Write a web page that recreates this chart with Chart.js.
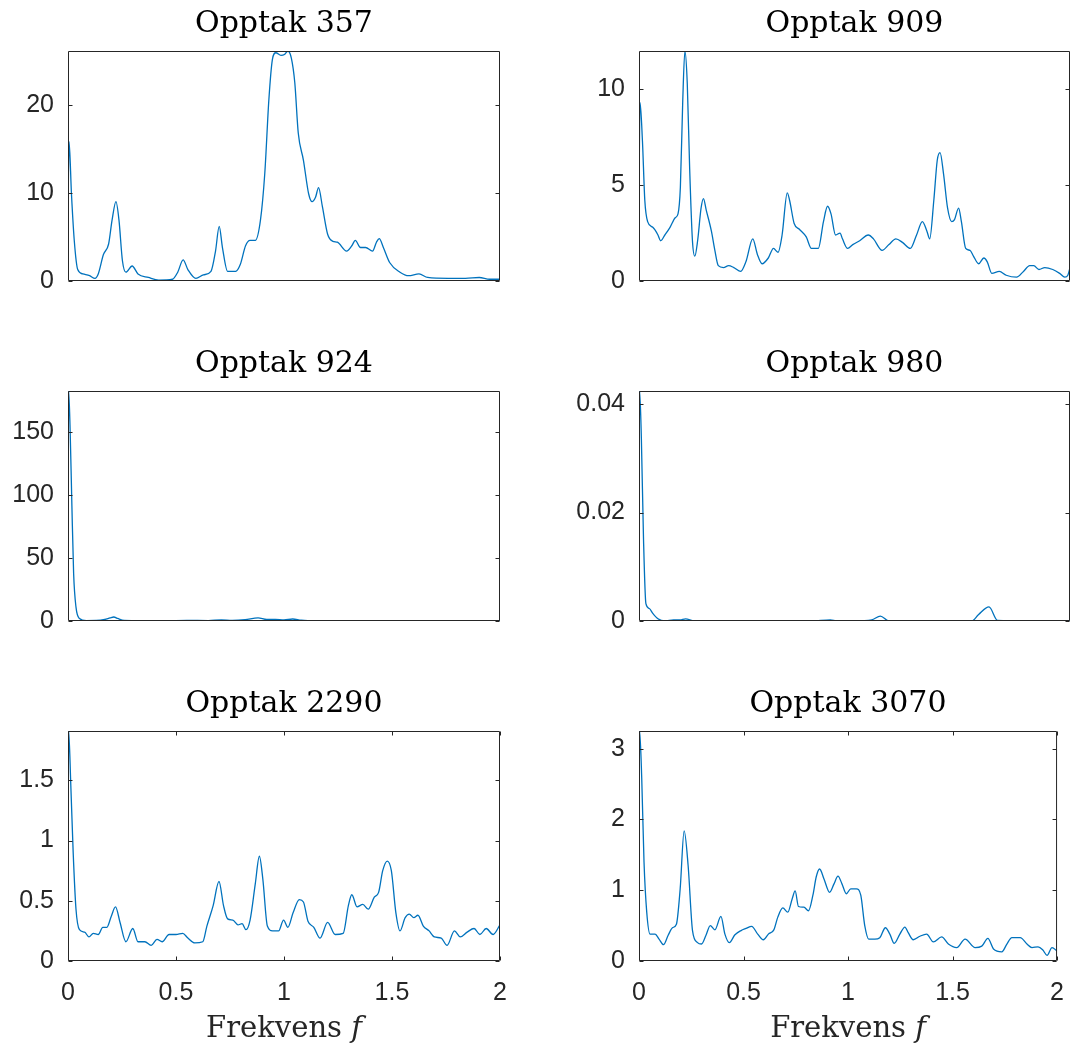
<!DOCTYPE html>
<html>
<head>
<meta charset="utf-8">
<script src="https://cdn.jsdelivr.net/npm/chart.js@4.4.1/dist/chart.umd.min.js"></script>
<style>
  body { margin: 0; background: #fff; }
  #wrap { position: relative; width: 1081px; height: 1047px; }
  canvas { position: absolute; }
</style>
</head>
<body>
<div id="wrap">
  <canvas id="c357" width="540" height="340" style="left:0;top:0"></canvas>
  <canvas id="c909" width="541" height="340" style="left:540px;top:0"></canvas>
  <canvas id="c924" width="540" height="340" style="left:0;top:340px"></canvas>
  <canvas id="c980" width="541" height="340" style="left:540px;top:340px"></canvas>
  <canvas id="c2290" width="540" height="367" style="left:0;top:680px"></canvas>
  <canvas id="c3070" width="541" height="367" style="left:540px;top:680px"></canvas>
</div>
<script>
// frequency / amplitude readings for each recording
var freq357 = [0, 0.005, 0.016, 0.029, 0.045, 0.069, 0.10, 0.125, 0.14, 0.164, 0.188, 0.204, 0.222, 0.236, 0.252, 0.268, 0.297, 0.324, 0.372, 0.42, 0.484, 0.508, 0.533, 0.555, 0.592, 0.627, 0.662, 0.683, 0.70, 0.715, 0.739, 0.776, 0.798, 0.822, 0.843, 0.867, 0.891, 0.911, 0.93, 0.946, 0.962, 0.986, 1.002, 1.018, 1.034, 1.05, 1.066, 1.09, 1.114, 1.13, 1.146, 1.16, 1.178, 1.202, 1.226, 1.247, 1.29, 1.314, 1.33, 1.354, 1.378, 1.41, 1.428, 1.441, 1.46, 1.489, 1.537, 1.577, 1.625, 1.665, 1.76, 1.84, 1.904, 1.952, 2.0];
var amp357 = [8.0, 15.8, 9.9, 4.6, 1.3, 0.8, 0.6, 0.3, 0.8, 3.0, 4.2, 6.9, 9.0, 6.9, 2.3, 1.0, 1.7, 0.8, 0.4, 0.1, 0.2, 1.0, 2.4, 1.3, 0.3, 0.7, 1.1, 3.4, 6.2, 3.8, 1.1, 1.1, 1.9, 4.0, 4.6, 4.6, 6.9, 12.2, 20.6, 25.1, 25.9, 25.6, 25.7, 26.1, 25.3, 22.5, 16.8, 13.7, 9.9, 9.0, 9.5, 10.6, 8.4, 5.3, 4.5, 4.4, 3.4, 4.0, 4.6, 3.8, 3.8, 3.4, 4.4, 4.8, 3.8, 2.1, 1.0, 0.6, 0.8, 0.4, 0.3, 0.3, 0.4, 0.2, 0.2];

var freq909 = [0, 0.005, 0.016, 0.027, 0.04, 0.064, 0.088, 0.10, 0.12, 0.144, 0.168, 0.181, 0.192, 0.203, 0.213, 0.224, 0.235, 0.248, 0.259, 0.272, 0.288, 0.299, 0.312, 0.336, 0.352, 0.368, 0.392, 0.416, 0.44, 0.472, 0.496, 0.528, 0.549, 0.571, 0.6, 0.624, 0.645, 0.664, 0.688, 0.699, 0.72, 0.744, 0.776, 0.8, 0.832, 0.856, 0.875, 0.891, 0.912, 0.933, 0.944, 0.968, 0.992, 1.024, 1.064, 1.088, 1.128, 1.16, 1.192, 1.224, 1.259, 1.288, 1.315, 1.336, 1.349, 1.368, 1.384, 1.397, 1.413, 1.432, 1.451, 1.464, 1.483, 1.496, 1.516, 1.536, 1.552, 1.576, 1.6, 1.616, 1.637, 1.672, 1.704, 1.752, 1.784, 1.813, 1.832, 1.856, 1.883, 1.92, 1.952, 1.976, 1.99, 2.0];
var amp909 = [4.7, 9.3, 7.3, 4.2, 3.1, 2.8, 2.4, 2.1, 2.4, 2.8, 3.3, 3.5, 4.9, 9.4, 12.0, 10.3, 5.9, 2.1, 1.3, 2.1, 3.8, 4.3, 3.7, 2.6, 1.6, 0.8, 0.7, 0.8, 0.7, 0.5, 1.0, 2.2, 1.4, 0.9, 1.2, 1.7, 1.5, 2.4, 4.6, 4.2, 3.0, 2.7, 2.3, 1.7, 1.7, 3.1, 3.9, 3.5, 2.4, 2.5, 2.2, 1.7, 1.9, 2.1, 2.4, 2.2, 1.6, 1.9, 2.2, 2.0, 1.7, 2.4, 3.1, 2.6, 2.2, 4.2, 6.3, 6.7, 5.6, 3.8, 3.1, 3.2, 3.8, 3.1, 1.7, 1.6, 1.3, 0.9, 1.2, 1.0, 0.4, 0.5, 0.3, 0.2, 0.5, 0.8, 0.8, 0.6, 0.7, 0.6, 0.4, 0.2, 0.3, 0.7];

var freq924 = [0, 0.003, 0.01, 0.018, 0.026, 0.037, 0.053, 0.085, 0.13, 0.17, 0.195, 0.212, 0.23, 0.26, 0.35, 0.45, 0.55, 0.65, 0.71, 0.76, 0.82, 0.88, 0.92, 0.96, 1.0, 1.04, 1.08, 1.15, 1.25, 1.4, 1.6, 1.8, 2.0];
var amp924 = [94, 183, 151, 92, 38, 11, 2, 0.3, 0.4, 1.2, 2.5, 3.2, 2.0, 0.5, 0.3, 0.2, 0.5, 0.3, 0.9, 0.4, 1.0, 2.5, 1.2, 1.3, 0.8, 1.6, 0.6, 0.2, 0.3, 0.2, 0.2, 0.3, 0.2];

var freq980 = [0, 0.003, 0.011, 0.021, 0.032, 0.048, 0.064, 0.088, 0.12, 0.16, 0.19, 0.216, 0.256, 0.4, 0.6, 0.8, 0.888, 0.92, 1.0, 1.08, 1.12, 1.16, 1.3, 1.544, 1.576, 1.624, 1.664, 1.8, 2.0];
var amp980 = [0.0218, 0.0424, 0.0336, 0.015, 0.0032, 0.0023, 0.0014, 0.0004, 0.0000, 0.0002, 0.0002, 0.0004, 0.0000, 0, 0, 0, 0.0002, 0, 0, 0.0002, 0.0009, 0, 0, 0, 0.0012, 0.0026, 0.0001, 0, 0];

var freq2290 = [0, 0.003, 0.013, 0.024, 0.037, 0.053, 0.077, 0.097, 0.117, 0.14, 0.161, 0.18, 0.2, 0.22, 0.241, 0.268, 0.3, 0.324, 0.356, 0.385, 0.412, 0.436, 0.468, 0.5, 0.531, 0.555, 0.587, 0.624, 0.643, 0.672, 0.699, 0.72, 0.739, 0.763, 0.787, 0.806, 0.824, 0.843, 0.867, 0.886, 0.902, 0.923, 0.947, 0.975, 0.998, 1.018, 1.042, 1.071, 1.09, 1.111, 1.138, 1.167, 1.202, 1.237, 1.274, 1.298, 1.314, 1.338, 1.365, 1.39, 1.418, 1.438, 1.457, 1.478, 1.497, 1.518, 1.537, 1.561, 1.58, 1.601, 1.62, 1.645, 1.672, 1.696, 1.728, 1.755, 1.789, 1.816, 1.848, 1.88, 1.907, 1.936, 1.968, 2.0];
var amp2290 = [0.99, 1.91, 1.46, 0.9, 0.43, 0.26, 0.24, 0.2, 0.23, 0.22, 0.28, 0.28, 0.37, 0.45, 0.32, 0.16, 0.27, 0.16, 0.16, 0.13, 0.18, 0.16, 0.22, 0.22, 0.23, 0.19, 0.15, 0.16, 0.29, 0.46, 0.66, 0.46, 0.35, 0.34, 0.3, 0.31, 0.26, 0.34, 0.64, 0.87, 0.68, 0.29, 0.25, 0.25, 0.34, 0.28, 0.4, 0.51, 0.49, 0.33, 0.28, 0.19, 0.32, 0.22, 0.23, 0.46, 0.55, 0.45, 0.47, 0.43, 0.53, 0.57, 0.75, 0.83, 0.75, 0.4, 0.25, 0.36, 0.39, 0.36, 0.38, 0.29, 0.25, 0.2, 0.19, 0.13, 0.25, 0.2, 0.24, 0.27, 0.22, 0.27, 0.22, 0.3];

var freq3070 = [0, 0.003, 0.013, 0.024, 0.037, 0.053, 0.077, 0.096, 0.117, 0.139, 0.16, 0.179, 0.197, 0.216, 0.235, 0.256, 0.28, 0.299, 0.32, 0.341, 0.363, 0.392, 0.411, 0.432, 0.459, 0.488, 0.512, 0.539, 0.568, 0.595, 0.619, 0.645, 0.664, 0.688, 0.712, 0.733, 0.747, 0.763, 0.789, 0.811, 0.832, 0.848, 0.864, 0.885, 0.912, 0.933, 0.952, 0.971, 0.992, 1.013, 1.04, 1.061, 1.08, 1.099, 1.128, 1.152, 1.179, 1.2, 1.221, 1.248, 1.272, 1.288, 1.312, 1.344, 1.376, 1.408, 1.448, 1.48, 1.52, 1.56, 1.608, 1.64, 1.669, 1.696, 1.736, 1.76, 1.784, 1.824, 1.856, 1.88, 1.909, 1.931, 1.952, 1.976, 2.0];
var amp3070 = [1.66, 3.25, 2.59, 1.4, 0.69, 0.38, 0.38, 0.31, 0.23, 0.36, 0.47, 0.52, 1.02, 1.84, 1.35, 0.43, 0.26, 0.24, 0.36, 0.5, 0.44, 0.63, 0.38, 0.26, 0.37, 0.43, 0.46, 0.49, 0.38, 0.3, 0.38, 0.44, 0.62, 0.75, 0.69, 0.88, 0.99, 0.77, 0.76, 0.71, 0.93, 1.19, 1.3, 1.16, 0.97, 1.09, 1.2, 1.09, 0.95, 1.02, 1.02, 0.93, 0.5, 0.31, 0.31, 0.33, 0.47, 0.38, 0.25, 0.38, 0.48, 0.4, 0.3, 0.35, 0.38, 0.27, 0.34, 0.24, 0.19, 0.31, 0.19, 0.21, 0.32, 0.17, 0.13, 0.24, 0.33, 0.33, 0.24, 0.19, 0.2, 0.16, 0.08, 0.19, 0.14];

// tick labels
var xTicks = [0, 0.5, 1, 1.5, 2];
var yTicks357 = [0, 10, 20];
var yTicks909 = [0, 5, 10];
var yTicks924 = [0, 50, 100, 150];
var yTicks980 = [0, 0.02, 0.04];
var yTicks2290 = [0, 0.5, 1, 1.5];
var yTicks3070 = [0, 1, 2, 3];

var lineColor = '#0072BD';
var axisColor = '#262626';

// MATLAB style box with inward ticks + x label with italic f
var boxAxes = {
    id: 'boxAxes',
    afterDraw: function(chart, args, opts) {
        var ctx = chart.ctx;
        var a = chart.chartArea;
        var L = a.left + 0.5, R = a.right - 0.5, T = a.top + 0.5, B = a.bottom - 0.5;
        ctx.save();
        ctx.strokeStyle = axisColor;
        ctx.lineWidth = 1;
        ctx.beginPath();
        ctx.rect(L, T, R - L, B - T);
        var ys = chart.scales.y;
        ys.ticks.forEach(function(t) {
            var py = Math.round(ys.getPixelForValue(t.value)) + 0.5;
            ctx.moveTo(L, py); ctx.lineTo(L + 4, py);
            ctx.moveTo(R, py); ctx.lineTo(R - 4, py);
        });
        if (opts.xTicks) {
            var xs = chart.scales.x;
            xs.ticks.forEach(function(t) {
                var px = Math.round(xs.getPixelForValue(t.value)) + 0.5;
                ctx.moveTo(px, B); ctx.lineTo(px, B - 4);
                ctx.moveTo(px, T); ctx.lineTo(px, T + 4);
            });
        }
        ctx.stroke();
        if (opts.xLabel) {
            var cx = (a.left + a.right) / 2;
            var yl = a.bottom + 68;
            ctx.fillStyle = '#262626';
            ctx.textBaseline = 'middle';
            ctx.font = '29px "DejaVu Serif"';
            var w1 = ctx.measureText('Frekvens ').width;
            ctx.font = 'italic 29px "DejaVu Serif"';
            var w2 = ctx.measureText('f').width;
            var x0 = cx - (w1 + w2) / 2;
            ctx.textAlign = 'left';
            ctx.font = '29px "DejaVu Serif"';
            ctx.fillText('Frekvens ', x0, yl);
            ctx.font = 'italic 29px "DejaVu Serif"';
            ctx.fillText('f', x0 + w1, yl);
        }
        ctx.restore();
    }
};

function makePanel(id, title, freq, amp, yTicks, leftW, rightPad, bottomRow) {
    var points = freq.map(function(f, i) { return { x: f, y: amp[i] }; });
    var canvas = document.getElementById(id);
    var H = canvas.height;
    return new Chart(canvas, {
        type: 'scatter',
        data: {
            datasets: [{
                data: points,
                showLine: true,
                borderColor: lineColor,
                borderWidth: 1.3,
                pointRadius: 0,
                cubicInterpolationMode: 'monotone'
            }]
        },
        plugins: [boxAxes],
        options: {
            responsive: false,
            animation: false,
            layout: { padding: { left: 0, right: rightPad, top: 0, bottom: 0 } },
            plugins: {
                legend: { display: false },
                tooltip: { enabled: false },
                title: {
                    display: true,
                    fullSize: false,
                    text: title,
                    color: '#000',
                    font: { family: '"DejaVu Serif"', size: 30, weight: 'normal', lineHeight: 1 },
                    padding: { top: 9, bottom: 51 - 9 - 30 }
                },
                boxAxes: { xTicks: bottomRow, xLabel: bottomRow }
            },
            scales: {
                x: {
                    type: 'linear',
                    min: 0,
                    max: 2,
                    grid: { display: false, drawTicks: false },
                    border: { display: false },
                    afterBuildTicks: function(s) { s.ticks = xTicks.map(function(v) { return { value: v }; }); },
                    afterFit: function(s) { s.height = H - 281; },
                    ticks: {
                        display: bottomRow,
                        padding: 17,
                        color: axisColor,
                        maxRotation: 0,
                        font: { family: '"Liberation Sans", Arial, sans-serif', size: 25 },
                        callback: function(v) { return String(v); }
                    }
                },
                y: {
                    min: 0,
                    max: Math.max.apply(null, amp),
                    grid: { display: false, drawTicks: false },
                    border: { display: false },
                    afterBuildTicks: function(s) { s.ticks = yTicks.map(function(v) { return { value: v }; }); },
                    afterFit: function(s) { s.width = leftW; },
                    ticks: {
                        padding: 14,
                        color: axisColor,
                        font: { family: '"Liberation Sans", Arial, sans-serif', size: 25 },
                        callback: function(v) { return String(v); }
                    }
                }
            }
        }
    });
}

makePanel('c357', 'Opptak 357', freq357, amp357, yTicks357, 68, 40, false);
makePanel('c909', 'Opptak 909', freq909, amp909, yTicks909, 99, 11, false);
makePanel('c924', 'Opptak 924', freq924, amp924, yTicks924, 68, 40, false);
makePanel('c980', 'Opptak 980', freq980, amp980, yTicks980, 99, 11, false);
makePanel('c2290', 'Opptak 2290', freq2290, amp2290, yTicks2290, 68, 40, true);
makePanel('c3070', 'Opptak 3070', freq3070, amp3070, yTicks3070, 99, 11, true);
</script>
</body>
</html>
